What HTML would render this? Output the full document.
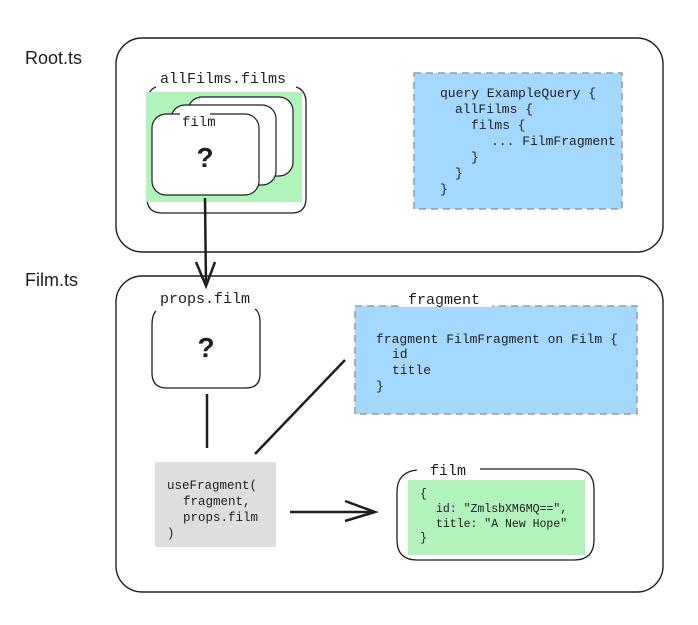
<!DOCTYPE html>
<html><head><meta charset="utf-8"><style>
html,body{margin:0;padding:0;background:#fff;}
svg{display:block}
.m{font-family:"Liberation Mono",monospace;fill:#1e1e1e}
.h{font-family:"Liberation Sans",sans-serif;fill:#1e1e1e}
</style></head><body>
<svg width="698" height="625" viewBox="0 0 698 625" xmlns="http://www.w3.org/2000/svg">
<g fill="none" stroke="#1e1e1e" stroke-width="1.4">
<rect x="116" y="38" width="547" height="214" rx="26"/>
<rect x="116" y="276" width="547" height="316" rx="26"/>
</g>
<text x="25" y="64" class="h" font-size="18">Root.ts</text>
<text x="25" y="286" class="h" font-size="18">Film.ts</text>

<!-- allFilms container -->
<path d="M156 87 Q147 90 147 105 L147 198 Q147 213 162 213 L292 213 Q306 213 306 198 L306 103 Q306 90 296 87" fill="none" stroke="#1e1e1e" stroke-width="1.3"/>
<text x="160" y="83" class="m" font-size="15">allFilms.films</text>
<rect x="146" y="92" width="156" height="110" fill="#b2f2bb"/>
<rect x="188" y="97" width="105" height="79" rx="14" fill="#fff" stroke="#1e1e1e" stroke-width="1.2"/>
<rect x="171" y="105" width="105" height="80" rx="14" fill="#fff" stroke="#1e1e1e" stroke-width="1.2"/>
<rect x="152" y="114" width="107" height="81" rx="14" fill="#fff" stroke="#1e1e1e" stroke-width="1.2"/>
<rect x="180" y="112" width="30" height="6" fill="#fff"/>
<text x="182" y="126" class="m" font-size="14">film</text>
<text x="205" y="167" class="h" font-size="28" font-weight="bold" text-anchor="middle">?</text>

<!-- arrow down -->
<path d="M205 198 L206 286" stroke="#1e1e1e" stroke-width="2.5" fill="none"/>
<path d="M196 262 L206 286 L215 262" stroke="#1e1e1e" stroke-width="2.5" fill="none"/>

<!-- query box -->
<rect x="414" y="73" width="208" height="136" fill="#a5d8ff" stroke="#999" stroke-width="1.5" stroke-dasharray="7 5"/>
<g class="m" font-size="13">
<text x="440" y="97">query ExampleQuery {</text>
<text x="455" y="113">allFilms {</text>
<text x="471" y="129">films {</text>
<text x="491" y="145">... FilmFragment</text>
<text x="471" y="161">}</text>
<text x="455" y="177">}</text>
<text x="440" y="193">}</text>
</g>

<!-- props.film -->
<path d="M156 311 Q152 315 152 325 L152 373 Q152 388 167 388 L246 388 Q260 388 260 374 L260 323 Q260 312 255 309" fill="none" stroke="#1e1e1e" stroke-width="1.3"/>
<text x="160" y="303" class="m" font-size="15">props.film</text>
<text x="206" y="357" class="h" font-size="28" font-weight="bold" text-anchor="middle">?</text>

<!-- fragment box -->
<rect x="355" y="306" width="282" height="108" fill="#a5d8ff" stroke="#999" stroke-width="1.5" stroke-dasharray="7 5"/>
<rect x="400" y="295" width="92" height="12" fill="#fff"/>
<text x="408" y="304" class="m" font-size="15">fragment</text>
<g class="m" font-size="13">
<text x="376" y="343">fragment FilmFragment on Film {</text>
<text x="392" y="358">id</text>
<text x="392" y="374">title</text>
<text x="376" y="390">}</text>
</g>

<!-- connectors -->
<path d="M207 394 L207 448" stroke="#1e1e1e" stroke-width="2.5"/>
<path d="M255 454 L345 360" stroke="#1e1e1e" stroke-width="2.5"/>

<!-- useFragment -->
<rect x="155" y="462" width="121" height="85" fill="#dedede"/>
<g class="m" font-size="12.5">
<text x="167" y="489">useFragment(</text>
<text x="183" y="505">fragment,</text>
<text x="183" y="521">props.film</text>
<text x="167" y="537">)</text>
</g>

<path d="M290 512 L375 512" stroke="#1e1e1e" stroke-width="2.5"/>
<path d="M345 501 L375 512 L345 521" stroke="#1e1e1e" stroke-width="2.5" fill="none"/>

<!-- film result -->
<path d="M417 470 Q397 472 397 492 L397 540 Q397 560 417 560 L574 560 Q594 560 594 540 L594 489 Q594 469 574 469 L480 469" fill="none" stroke="#1e1e1e" stroke-width="1.3"/>
<text x="430" y="475" class="m" font-size="15">film</text>
<rect x="408" y="480" width="177" height="75" fill="#b2f2bb"/>
<g class="m" font-size="11.5">
<text x="420" y="497">{</text>
<text x="436" y="512">id: "ZmlsbXM6MQ==",</text>
<text x="436" y="527">title: "A New Hope"</text>
<text x="420" y="541">}</text>
</g>
</svg>
</body></html>
